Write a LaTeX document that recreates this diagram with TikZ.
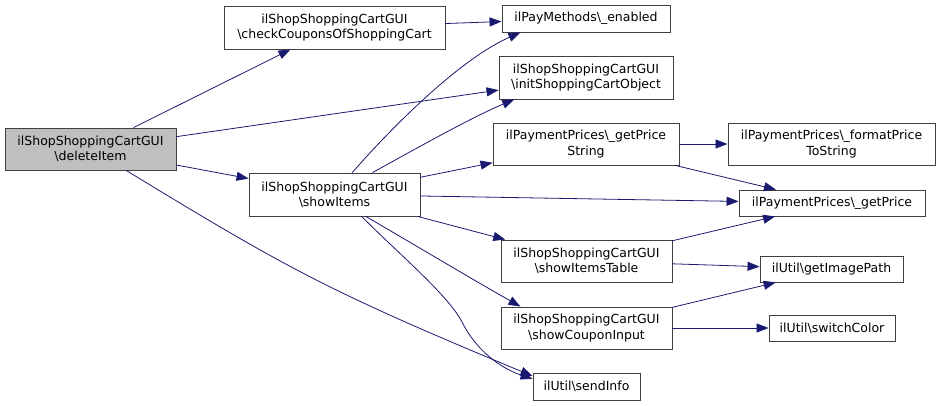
\documentclass[tikz,border=0pt]{standalone}
\usepackage{fontspec}
\setmainfont{DejaVu Sans}
\usetikzlibrary{arrows.meta}

\definecolor{edgeblue}{HTML}{191970}
\definecolor{boxline}{HTML}{404040}
\definecolor{rootgray}{HTML}{BFBFBF}

\tikzset{
  fn/.style={draw=boxline,line width=0.9pt,fill=white,inner sep=0pt,align=center,
    font=\fontsize{12.5}{15.3}\selectfont},
  rootfn/.style={fn,fill=rootgray},
  call/.style={->,draw=edgeblue,line width=0.8pt}
}

\begin{document}
\begin{tikzpicture}[x=1pt,y=-1pt,>={Triangle[length=12pt,width=9pt]}]
  \useasboundingbox (0,0) rectangle (941,405);

  % caller
  \node[rootfn,minimum width=171,minimum height=42] (del) at (90.5,149)
    {ilShopShoppingCartGUI\\\textbackslash deleteItem};

  % first level
  \node[fn,minimum width=221,minimum height=43] (chk) at (334.5,27.5)
    {ilShopShoppingCartGUI\\\textbackslash checkCouponsOfShoppingCart};
  \node[fn,minimum width=171,minimum height=43] (shi) at (334.5,194.5)
    {ilShopShoppingCartGUI\\\textbackslash showItems};

  % second level
  \node[fn,minimum width=168,minimum height=27] (ena) at (586,18.5)
    {ilPayMethods\textbackslash\_enabled};
  \node[fn,minimum width=174,minimum height=43] (ini) at (586,77.5)
    {ilShopShoppingCartGUI\\\textbackslash initShoppingCartObject};
  \node[fn,minimum width=186,minimum height=42] (gps) at (586,144)
    {ilPaymentPrices\textbackslash\_getPrice\\String};
  \node[fn,minimum width=171,minimum height=42] (sit) at (586.5,261)
    {ilShopShoppingCartGUI\\\textbackslash showItemsTable};
  \node[fn,minimum width=171,minimum height=42] (sci) at (586.5,328)
    {ilShopShoppingCartGUI\\\textbackslash showCouponInput};
  \node[fn,minimum width=107,minimum height=27] (snd) at (586.5,386.5)
    {ilUtil\textbackslash sendInfo};

  % third level
  \node[fn,minimum width=207,minimum height=42] (fmt) at (831.5,144)
    {ilPaymentPrices\textbackslash\_formatPrice\\ToString};
  \node[fn,minimum width=186,minimum height=26] (gp) at (832,203)
    {ilPaymentPrices\textbackslash\_getPrice};
  \node[fn,minimum width=143,minimum height=26] (gip) at (831.5,269)
    {ilUtil\textbackslash getImagePath};
  \node[fn,minimum width=126,minimum height=26] (swc) at (832,328)
    {ilUtil\textbackslash switchColor};

  % calls of deleteItem
  \draw[call] (del) -- (chk);
  \draw[call] (del) -- (ini);
  \draw[call] (del) -- (shi);
  \draw[call] (del.-31) .. controls (285,267) and (325,290) .. (snd.169);
  \draw[call] (chk) -- (ena);

  % calls of showItems
  \draw[call] (shi.51) .. controls (392,127) and (460,59) .. (ena.-168);
  \draw[call] (shi.30) .. controls (410,152) and (470,118) .. (ini.-163);
  \draw[call] (shi) -- (gps);
  \draw[call] (shi) -- (gp);
  \draw[call] (shi) -- (sit);
  \draw[call] (shi.-35) .. controls (420,248) and (470,278) .. (sci.162);
  \draw[call] (shi.-39) .. controls (400,255) and (448,295) .. (462,322)
    .. controls (476,350) and (500,368) .. (snd.172);

  % deeper calls
  \draw[call] (gps) -- (fmt);
  \draw[call] (gps) -- (gp);
  \draw[call] (sit) -- (gp);
  \draw[call] (sit) -- (gip);
  \draw[call] (sci) -- (gip);
  \draw[call] (sci) -- (swc);
\end{tikzpicture}
\end{document}
